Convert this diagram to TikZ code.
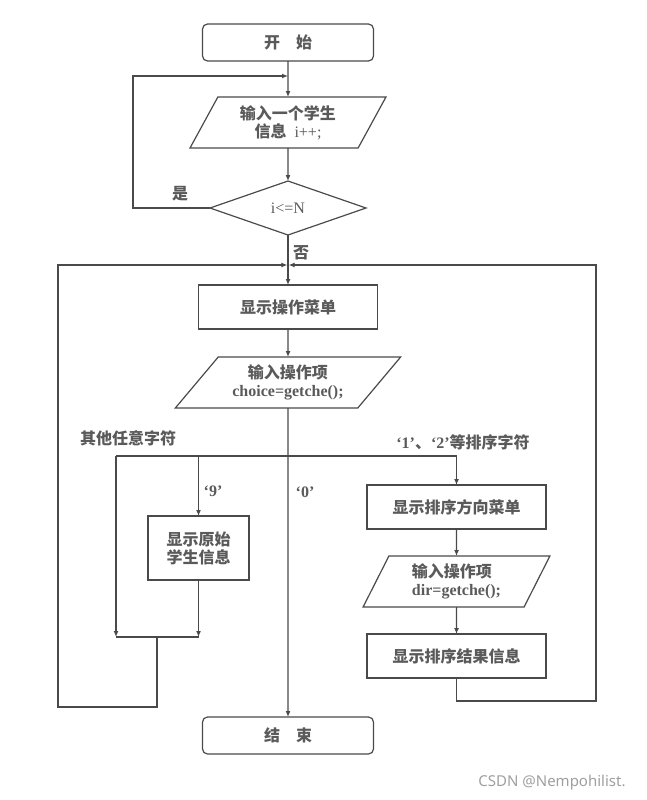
\documentclass[tikz,border=0pt]{standalone}
\usepackage{fontspec}
\setmainfont{Liberation Serif}
\newfontfamily\cjk{Noto Sans CJK SC}
\newfontfamily\wmfont{Noto Sans}
\usetikzlibrary{arrows.meta}
\usetikzlibrary{positioning,shapes.geometric}
\definecolor{linegray}{HTML}{4A4A4A}
\definecolor{textgray}{HTML}{5A5A5A}

\begin{document}
\begin{tikzpicture}[%
        x=1pt, y=-1pt,
        every node/.style={inner sep=2pt, outer sep=0pt, text=textgray,
          font=\fontsize{16}{18}\selectfont\bfseries},
        base/.style={draw=linegray, line width=1.2pt},
        term/.style={base, rectangle, rounded corners=5pt, minimum width=171pt, minimum height=37pt},
        proc/.style={base, rectangle, minimum width=179pt, minimum height=44pt},
        io/.style={base, trapezium, trapezium stretches=true, minimum height=51pt},
        test/.style={base, diamond, aspect=2.9, inner sep=0pt, minimum width=156pt, minimum height=54pt},
        flow/.style={draw=linegray, line width=1.2pt},
        >={Latex[length=6pt,width=5pt]}
      ]
      \useasboundingbox (0,0) rectangle (646,800);
      % main column
      \node [term] (start) at (288,42.5) {\cjk 开\hspace{16pt}始};
      \node [io, below=36pt of start, minimum width=196pt,
        trapezium left angle=62.6, trapezium right angle=117.4, align=center] (in1)
        {\cjk 输入一个学生\\{\cjk 信息}\hspace{8pt}\mdseries i++;};
      \node [test, below=33pt of in1] (test) {\mdseries i<=N};
      \node [proc, below=50pt of test] (menu) {\cjk 显示操作菜单};
      \node [io, below=28pt of menu, minimum width=226pt,
        trapezium left angle=48, trapezium right angle=132, align=center] (choice)
        {\cjk 输入操作项\\choice=getche();};
      \node [term] (end) at (288,735.5) {\cjk 结\hspace{16pt}束};
      % branches
      \node [proc, minimum width=101pt, minimum height=64pt, align=center] (show9) at (198.5,548)
        {\cjk 显示原始\\\cjk 学生信息};
      \node [proc] (dirmenu) at (456.5,507) {\cjk 显示排序方向菜单};
      \node [io, below=27pt of dirmenu, minimum width=187pt,
        trapezium left angle=65.7, trapezium right angle=114.3, align=left] (dirin)
        {\cjk 输入操作项\\dir=getche();};
      \node [proc, below=27pt of dirin] (result) {\cjk 显示排序结果信息};
      % labels
      \node (yes) at (180,194) {\cjk 是};
      \node (no) at (301,253) {\cjk 否};
      \node (other) at (128,438) {\cjk 其他任意字符};
      \node (sortkey) at (463,442) {‘1’{\cjk 、}‘2’{\cjk 等排序字符}};
      \node (key9) at (213,491) {‘9’};
      \node (key0) at (305,492) {‘0’};
      \node [font=\wmfont\fontsize{15}{15}\selectfont, text=gray!75] (mark) at (552,783) {CSDN @Nempohilist.};
      % turning points
      \coordinate (yesup) at (133,76);
      \coordinate (brL) at (116,456);
      \coordinate (mrgL) at (116,637);
      \coordinate (mrgout) at (157,637);
      \coordinate (leftlow) at (58,707);
      \coordinate (loopL) at (58,265);
      \coordinate (rightlow) at (596,701);
      \coordinate (loopR) at (596,265);
      % connectors
      \draw [flow,->] (start) -- (in1);
      \draw [flow,->] (in1) -- (test);
      \draw [flow,->] (test.west) -| (yesup) -- (yesup -| start.south);
      \draw [flow,->] (test) -- (menu);
      \draw [flow,->] (menu) -- (choice);
      \draw [flow,->] (choice) -- (end);
      \draw [flow,->] (brL) -- (mrgL);
      \draw [flow,->] (brL) -| (dirmenu.north);
      \draw [flow,->] (brL -| show9.north) -- (show9.north);
      \draw [flow,->] (show9.south) -- (show9.south |- mrgL);
      \draw [flow] (mrgL) -- (show9.south |- mrgL);
      \draw [flow,->] (mrgout) |- (leftlow) -- (loopL) -- ([xshift=-0.6pt]loopL -| menu.north);
      \draw [flow,->] (dirmenu) -- (dirin);
      \draw [flow,->] (dirin) -- (result);
      \draw [flow,->] (result.south) |- (rightlow) -- (loopR) -- ([xshift=0.6pt]loopR -| menu.north);
    \end{tikzpicture}
\end{document}
